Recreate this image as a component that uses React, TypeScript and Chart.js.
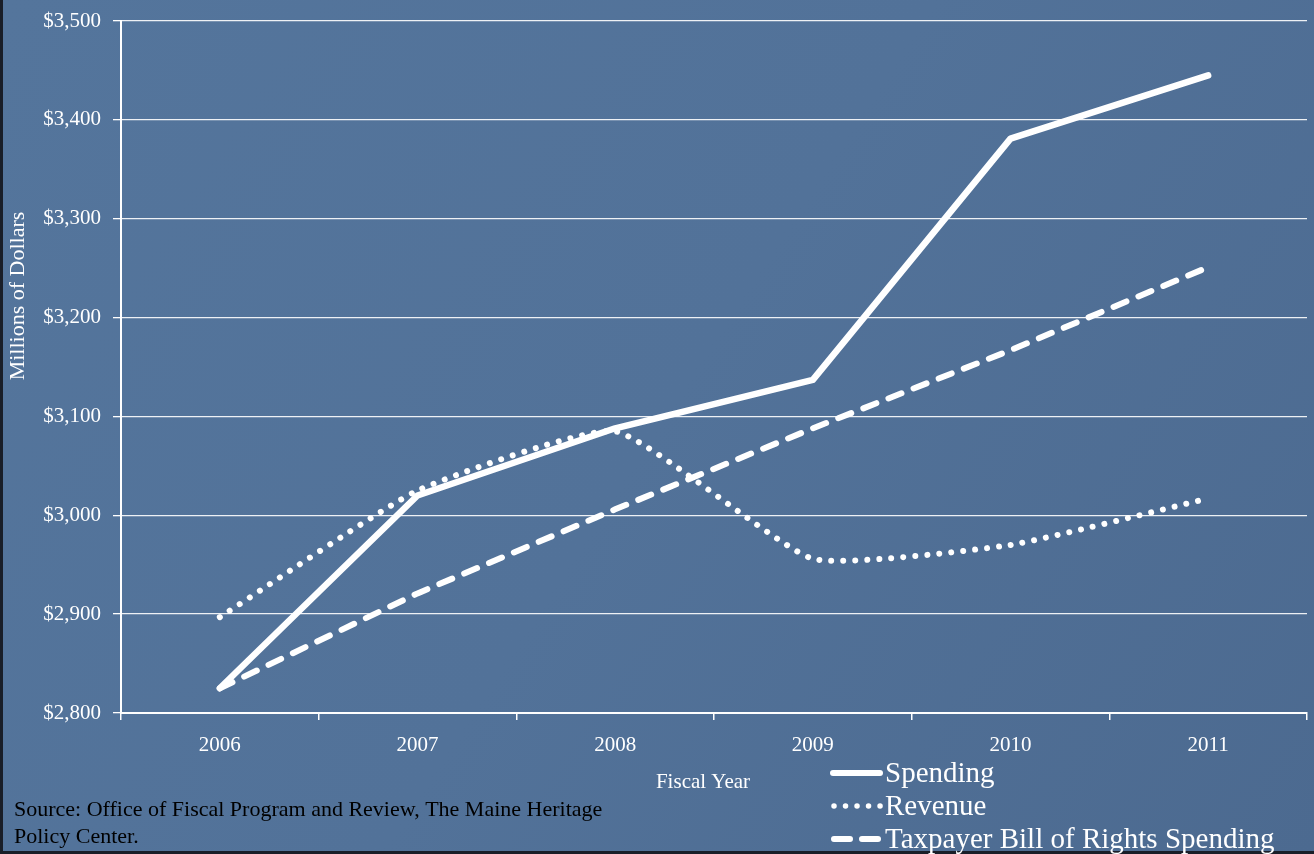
import React, { useEffect, useRef } from "react";
import { Chart, registerables } from "chart.js";

Chart.register(...registerables);

const years = ["2006", "2007", "2008", "2009", "2010", "2011"];
const spending = [2825, 3020, 3088, 3137, 3381, 3445];
const revenue = [2897, 3025, 3085, 2956, 2970, 3017];
const tabor = [2825, 2921, 3006, 3088, 3167, 3251];
const yTicks = [2800, 2900, 3000, 3100, 3200, 3300, 3400, 3500];
const seriesNames = ["Spending", "Revenue", "Taxpayer Bill of Rights Spending"];
const yTitle = "Millions of Dollars";
const xTitle = "Fiscal Year";
const sourceLines = [
  "Source: Office of Fiscal Program and Review, The Maine Heritage",
  "Policy Center.",
];

const SERIF = "'Liberation Serif', 'Times New Roman', serif";
const W = 1314;
const H = 854;

const decorPlugin = {
  id: "decor",
  beforeDraw(chart: any) {
    const ctx = chart.ctx;
    ctx.save();
    const g = ctx.createLinearGradient(0, 0, W, H);
    g.addColorStop(0, "rgb(84,117,156)");
    g.addColorStop(0.5, "rgb(82,114,153)");
    g.addColorStop(1, "rgb(76,106,144)");
    ctx.fillStyle = g;
    ctx.fillRect(0, 0, W, H);
    ctx.fillStyle = "rgb(25,30,40)";
    ctx.fillRect(0, 0, 3, H);
    ctx.fillRect(0, H - 3, W, 3);
    ctx.restore();
  },
  afterDraw(chart: any) {
    const ctx = chart.ctx;
    ctx.save();
    ctx.fillStyle = "#ffffff";
    ctx.font = `22px ${SERIF}`;
    ctx.textAlign = "center";
    ctx.textBaseline = "middle";
    ctx.translate(18, 296);
    ctx.rotate(-Math.PI / 2);
    ctx.fillText(yTitle, 0, 0);
    ctx.restore();

    ctx.save();
    ctx.fillStyle = "#ffffff";
    ctx.font = `21px ${SERIF}`;
    ctx.textAlign = "center";
    ctx.textBaseline = "middle";
    ctx.fillText(xTitle, 703, 782);

    ctx.fillStyle = "#000000";
    ctx.font = `22px ${SERIF}`;
    ctx.textAlign = "left";
    ctx.fillText(sourceLines[0], 14, 810);
    ctx.fillText(sourceLines[1], 14, 837);

    const rows = [773, 806, 839];
    ctx.strokeStyle = "#ffffff";
    ctx.lineCap = "round";
    ctx.lineWidth = 6;
    ctx.setLineDash([]);
    ctx.beginPath();
    ctx.moveTo(833, rows[0]);
    ctx.lineTo(880, rows[0]);
    ctx.stroke();
    ctx.lineWidth = 5.5;
    ctx.setLineDash([0.01, 11.5]);
    ctx.beginPath();
    ctx.moveTo(834, rows[1]);
    ctx.lineTo(882, rows[1]);
    ctx.stroke();
    ctx.lineWidth = 6;
    ctx.setLineDash([16, 12]);
    ctx.beginPath();
    ctx.moveTo(834, rows[2]);
    ctx.lineTo(880, rows[2]);
    ctx.stroke();
    ctx.setLineDash([]);

    ctx.fillStyle = "#ffffff";
    ctx.font = `29px ${SERIF}`;
    ctx.textAlign = "left";
    ctx.textBaseline = "middle";
    seriesNames.forEach((n, i) => ctx.fillText(n, 885, rows[i] + 1));
    ctx.restore();
  },
};

export default function App() {
  const ref = useRef<HTMLCanvasElement>(null);

  useEffect(() => {
    document.body.style.margin = "0";
    if (!ref.current) return;
    const chart = new Chart(ref.current, {
      type: "line",
      data: {
        labels: years,
        datasets: [
          {
            label: seriesNames[0],
            data: spending,
            borderColor: "#ffffff",
            borderWidth: 6.5,
            borderCapStyle: "round",
            borderJoinStyle: "round",
            pointRadius: 0,
            tension: 0,
          },
          {
            label: seriesNames[1],
            data: revenue,
            borderColor: "#ffffff",
            borderWidth: 6,
            borderDash: [0.01, 12],
            borderCapStyle: "round",
            pointRadius: 0,
            tension: 0.15,
          },
          {
            label: seriesNames[2],
            data: tabor,
            borderColor: "#ffffff",
            borderWidth: 6,
            borderDash: [14, 13],
            borderCapStyle: "round",
            pointRadius: 0,
            tension: 0,
          },
        ],
      },
      options: {
        responsive: false,
        animation: false,
        layout: { padding: { left: 0, top: 21, right: 7, bottom: 0 } },
        plugins: {
          legend: { display: false },
          tooltip: { enabled: false },
        },
        scales: {
          x: {
            type: "category",
            offset: true,
            afterFit: (s: any) => {
              s.height = H - 21 - 692;
              s.paddingLeft = 0;
              s.paddingRight = 0;
            },
            grid: {
              offset: true,
              drawOnChartArea: false,
              drawTicks: true,
              tickLength: 7,
              color: "#ffffff",
              lineWidth: 1.5,
            },
            border: { display: true, color: "#ffffff", width: 2 },
            ticks: {
              color: "#ffffff",
              font: { family: SERIF, size: 21 },
              padding: 13,
              maxRotation: 0,
            },
          },
          y: {
            min: 2800,
            max: 3500,
            afterFit: (s: any) => {
              s.width = 121;
              s.paddingTop = 0;
              s.paddingBottom = 0;
            },
            afterBuildTicks: (s: any) => {
              s.ticks = yTicks.map((v) => ({ value: v }));
            },
            grid: {
              color: "rgba(255,255,255,0.9)",
              lineWidth: 1.3,
              drawTicks: true,
              tickLength: 8,
              tickColor: "#ffffff",
            },
            border: { display: true, color: "#ffffff", width: 2 },
            ticks: {
              color: "#ffffff",
              font: { family: SERIF, size: 21 },
              padding: 12,
              callback: (v: any) => "$" + Number(v).toLocaleString("en-US"),
            },
          },
        },
      },
      plugins: [decorPlugin],
    });
    return () => chart.destroy();
  }, []);

  return (
    <div style={{ width: W, height: H }}>
      <canvas ref={ref} width={W} height={H} style={{ display: "block" }} />
    </div>
  );
}
